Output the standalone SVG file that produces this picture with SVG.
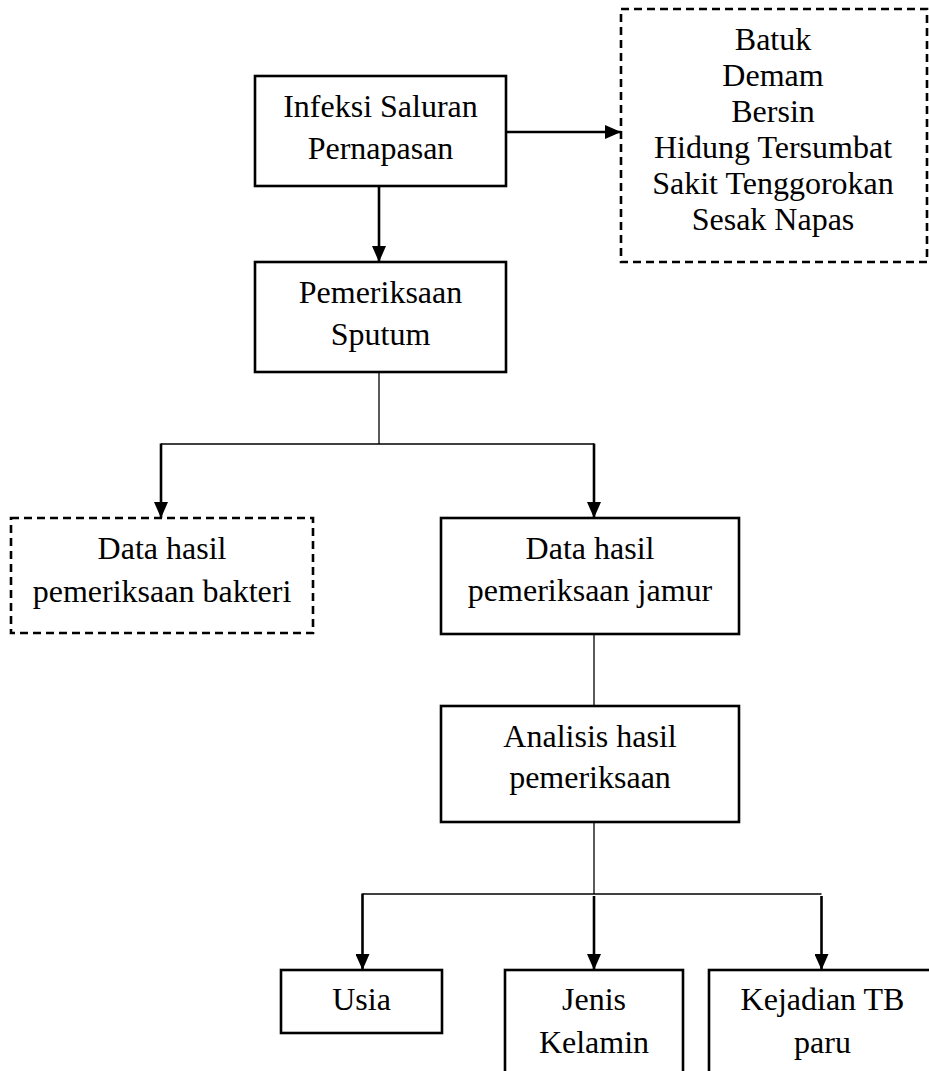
<svg xmlns="http://www.w3.org/2000/svg" width="929" height="1071" viewBox="0 0 929 1071">
<defs>
<style>
.box{fill:#fff;stroke:#000;stroke-width:2.6}
.dash{fill:#fff;stroke:#000;stroke-width:2.6;stroke-dasharray:8 5}
.t{font-family:"Liberation Serif","Times New Roman",serif;font-size:32px;fill:#000;text-anchor:middle}
.thin{fill:none;stroke:#000;stroke-width:1.3}
.thick{fill:none;stroke:#000;stroke-width:2.6}
</style>
<marker id="ah" viewBox="0 0 16 14" refX="16" refY="7" markerWidth="16" markerHeight="14" markerUnits="userSpaceOnUse" orient="auto">
<path d="M0,0 L16,7 L0,14 Z" fill="#000"/>
</marker>
</defs>
<rect width="929" height="1071" fill="#fff"/>
<g id="connectors">
<line class="thick" x1="506" y1="132" x2="621" y2="132" marker-end="url(#ah)"/>
<line class="thick" x1="379" y1="186" x2="379" y2="262" marker-end="url(#ah)"/>
<polyline class="thin" points="379,372 379,444"/>
<line class="thin" x1="161" y1="444" x2="594" y2="444"/>
<line class="thick" x1="161" y1="443.5" x2="161" y2="518" marker-end="url(#ah)"/>
<line class="thick" x1="594" y1="443.5" x2="594" y2="518" marker-end="url(#ah)"/>
<line class="thin" x1="594" y1="634" x2="594" y2="706"/>
<line class="thin" x1="594" y1="822" x2="594" y2="894"/>
<line class="thin" x1="362.5" y1="894" x2="821.5" y2="894"/>
<line class="thick" x1="362.5" y1="893.5" x2="362.5" y2="970" marker-end="url(#ah)"/>
<line class="thick" x1="594" y1="896" x2="594" y2="970" marker-end="url(#ah)"/>
<line class="thick" x1="821.5" y1="896" x2="821.5" y2="970" marker-end="url(#ah)"/>
</g>
<g id="node-infeksi">
<rect class="box" x="255" y="76" width="251" height="110"/>
<text class="t" x="380.5" y="117">Infeksi Saluran</text>
<text class="t" x="380.5" y="159">Pernapasan</text>
</g>
<g id="node-gejala">
<rect class="dash" x="621" y="9" width="306" height="253"/>
<text class="t" x="773" y="50">Batuk</text>
<text class="t" x="773" y="86">Demam</text>
<text class="t" x="773" y="122">Bersin</text>
<text class="t" x="773" y="158">Hidung Tersumbat</text>
<text class="t" x="773" y="194">Sakit Tenggorokan</text>
<text class="t" x="773" y="230">Sesak Napas</text>
</g>
<g id="node-sputum">
<rect class="box" x="255" y="262" width="251" height="110"/>
<text class="t" x="380.5" y="303">Pemeriksaan</text>
<text class="t" x="380.5" y="345">Sputum</text>
</g>
<g id="node-bakteri">
<rect class="dash" x="11" y="518" width="302" height="115"/>
<text class="t" x="162" y="559">Data hasil</text>
<text class="t" x="162" y="602">pemeriksaan bakteri</text>
</g>
<g id="node-jamur">
<rect class="box" x="441" y="518" width="298" height="116"/>
<text class="t" x="590" y="559">Data hasil</text>
<text class="t" x="590" y="601">pemeriksaan jamur</text>
</g>
<g id="node-analisis">
<rect class="box" x="441" y="706" width="298" height="116"/>
<text class="t" x="590" y="747">Analisis hasil</text>
<text class="t" x="590" y="788">pemeriksaan</text>
</g>
<g id="node-usia">
<rect class="box" x="281" y="970" width="161" height="63"/>
<text class="t" x="361.5" y="1010">Usia</text>
</g>
<g id="node-jenis">
<rect class="box" x="505" y="970" width="178" height="120"/>
<text class="t" x="594" y="1010">Jenis</text>
<text class="t" x="594" y="1053">Kelamin</text>
</g>
<g id="node-kejadian">
<rect class="box" x="709" y="970" width="227" height="120"/>
<text class="t" x="822.5" y="1010">Kejadian TB</text>
<text class="t" x="822.5" y="1053">paru</text>
</g>
</svg>
